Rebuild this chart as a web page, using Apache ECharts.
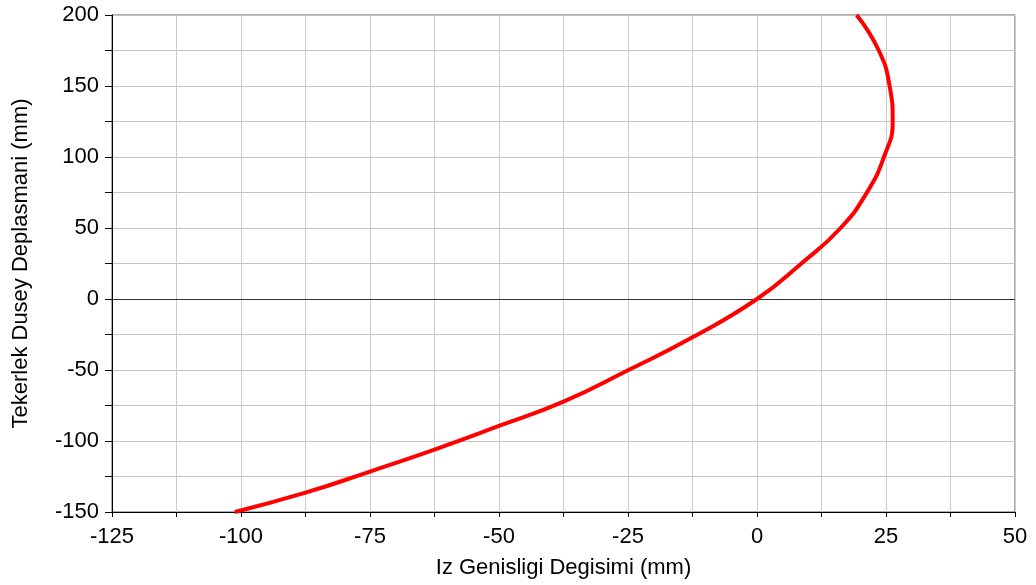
<!DOCTYPE html>
<html>
<head>
<meta charset="utf-8">
<script src="https://cdn.jsdelivr.net/npm/echarts@6/dist/echarts.min.js"></script>
<style>
  html, body { margin: 0; padding: 0; background: #ffffff; }
  #chart { width: 1036px; height: 585px; }
</style>
</head>
<body>
<div id="chart"></div>
<script>
// Track width change (x, mm) versus vertical wheel travel (y, mm)
const trackChange = [-101.2, -87.5, -75, -62.5, -50, -37.5, -25, -12.5, 0, 8.6, 16.2, 21.3, 24.6, 26.3, 25.7, 23.6, 19.3];
const wheelTravel = [-150, -136.4, -121.5, -106.0, -89.4, -72.3, -50.2, -27, 0, 25, 50, 75, 100, 125, 150, 175, 200];

const xAxisTitle = 'Iz Genisligi Degisimi (mm)';
const yAxisTitle = 'Tekerlek Dusey Deplasmani (mm)';

const FONT = '"Liberation Sans", Arial, sans-serif';
const points = trackChange.map((x, i) => [x, wheelTravel[i]]);

const chart = echarts.init(document.getElementById('chart'), null, { renderer: 'canvas' });

chart.setOption({
  animation: false,
  backgroundColor: '#ffffff',
  grid: {
    left: 112, right: 21, top: 15, bottom: 73,
    show: true, borderColor: '#555555', borderWidth: 1, backgroundColor: 'transparent'
  },
  xAxis: {
    type: 'value',
    min: -125, max: 50, interval: 25,
    name: xAxisTitle,
    nameLocation: 'middle',
    nameGap: 45,
    nameTextStyle: { fontFamily: FONT, fontSize: 22, color: '#000' },
    axisLine: { show: true, onZero: false, lineStyle: { color: '#000', width: 1 } },
    axisTick: { show: true, length: 5, inside: false, lineStyle: { color: '#000' } },
    minorTick: { show: true, splitNumber: 2, length: 5, lineStyle: { color: '#000' } },
    axisLabel: { fontFamily: FONT, fontSize: 22, color: '#000', margin: 14 },
    splitLine: { show: true, lineStyle: { color: '#cccccc', width: 1 } },
    minorSplitLine: { show: true, lineStyle: { color: '#cccccc', width: 1 } }
  },
  yAxis: {
    type: 'value',
    min: -150, max: 200, interval: 50,
    name: yAxisTitle,
    nameLocation: 'middle',
    nameGap: 80,
    nameTextStyle: { fontFamily: FONT, fontSize: 22, color: '#000' },
    axisLine: { show: true, onZero: false, lineStyle: { color: '#000', width: 1 } },
    axisTick: { show: true, length: 7, inside: false, lineStyle: { color: '#000' } },
    minorTick: { show: true, splitNumber: 2, length: 7, lineStyle: { color: '#000' } },
    axisLabel: { fontFamily: FONT, fontSize: 22, color: '#000', margin: 13 },
    splitLine: { show: true, lineStyle: { color: '#c4c4c4', width: 1 } },
    minorSplitLine: { show: true, lineStyle: { color: '#c4c4c4', width: 1 } }
  },
  series: [{
    type: 'line',
    data: points,
    smooth: 0.5,
    showSymbol: false,
    symbol: 'none',
    lineStyle: { color: '#ff0000', width: 4 },
    z: 5,
    markLine: {
      silent: true,
      symbol: 'none',
      label: { show: false },
      lineStyle: { color: '#333333', width: 1, type: 'solid' },
      data: [{ yAxis: 0 }],
      z: 3
    }
  }]
});
</script>
</body>
</html>
